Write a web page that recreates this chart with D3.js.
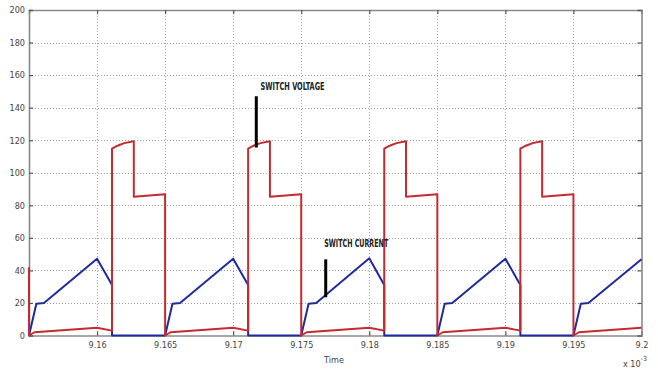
<!DOCTYPE html>
<html>
<head>
<meta charset="utf-8">
<script src="https://cdn.jsdelivr.net/npm/d3@7"></script>
<style>
  html, body { margin: 0; padding: 0; background: #fff; }
  svg { display: block; }
  .tick-label { font-family: "Liberation Sans Narrow", "DejaVu Sans Condensed", "Arial Narrow", sans-serif; font-size: 9px; fill: #444; }
  .annot { font-family: "Liberation Sans Narrow", "DejaVu Sans Condensed", "Arial Narrow", sans-serif; font-size: 10px; font-weight: bold; fill: #222; }
</style>
</head>
<body>
<div id="chart"></div>
<script>
// ---- Data (time in units of 1e-3 s) ----
const xTicks = [9.16, 9.165, 9.17, 9.175, 9.18, 9.185, 9.19, 9.195, 9.2];
const xTickLabels = ["9.16", "9.165", "9.17", "9.175", "9.18", "9.185", "9.19", "9.195", "9.2"];
const yTicks = [0, 20, 40, 60, 80, 100, 120, 140, 160, 180, 200];

// Switch current (blue)
const currentTime = [
  9.155, 9.15554, 9.1561, 9.160, 9.1611, 9.1611,
  9.165, 9.16554, 9.1661, 9.170, 9.1711, 9.1711,
  9.175, 9.17554, 9.1761, 9.180, 9.1811, 9.1811,
  9.185, 9.18554, 9.1861, 9.190, 9.1911, 9.1911,
  9.195, 9.19554, 9.1961, 9.200
];
const currentValue = [
  0, 19.5, 20, 47.2, 31, 0,
  0, 19.5, 20, 47.2, 31, 0,
  0, 19.5, 20, 47.4, 31, 0,
  0, 19.5, 20, 47.2, 31, 0,
  0, 19.5, 20, 46.8
];

// Switch voltage (red)
const voltageTime = [
  9.155, 9.155, 9.1554, 9.160, 9.1611, 9.1611, 9.1615, 9.1620, 9.1627, 9.1627, 9.1650,
  9.165, 9.1654, 9.170, 9.1711, 9.1711, 9.1715, 9.1720, 9.1727, 9.1727, 9.1750,
  9.175, 9.1754, 9.180, 9.1811, 9.1811, 9.1815, 9.1820, 9.1827, 9.1827, 9.1850,
  9.185, 9.1854, 9.190, 9.1911, 9.1911, 9.1915, 9.1920, 9.1927, 9.1927, 9.1950,
  9.195, 9.1954, 9.200
];
const voltageValue = [
  42, 0, 2, 4.8, 3, 114.8, 116.6, 118.2, 119.4, 85.3, 86.8,
  0, 2, 4.8, 3, 114.8, 116.6, 118.2, 119.4, 85.3, 86.8,
  0, 2, 4.8, 3, 114.8, 116.6, 118.2, 119.4, 85.3, 86.8,
  0, 2, 4.8, 3, 114.8, 116.6, 118.2, 119.4, 85.3, 86.8,
  0, 2, 4.8
];

// Annotations: label text, arrow time, label value, arrow top/bottom values
const annotationText = ["SWITCH VOLTAGE", "SWITCH CURRENT"];
const annotationTime = [9.1717, 9.1768];
const annotationLabelValue = [153, 56.6];
const annotationTop = [147, 46.8];
const annotationBottom = [115.5, 23.5];

// ---- Layout ----
const W = 658, H = 371;
const mLeft = 29, mRight = 641.5, mTop = 10, mBottom = 335.5;

const svg = d3.select("#chart").append("svg").attr("width", W).attr("height", H);

const x = d3.scaleLinear().domain([9.155, 9.2]).range([mLeft, mRight]);
const y = d3.scaleLinear().domain([0, 200]).range([mBottom, mTop]);

// Grid
const grid = svg.append("g").attr("stroke", "#a0a0a0").attr("stroke-width", 1).attr("stroke-dasharray", "1,2");
grid.selectAll("line.v").data(xTicks.filter(t => t < 9.2)).join("line")
  .attr("class", "v")
  .attr("x1", d => Math.round(x(d)) + 0.5).attr("x2", d => Math.round(x(d)) + 0.5)
  .attr("y1", mTop).attr("y2", mBottom);
grid.selectAll("line.h").data(yTicks.filter(t => t > 0 && t < 200)).join("line")
  .attr("class", "h")
  .attr("y1", d => Math.round(y(d)) + 0.5).attr("y2", d => Math.round(y(d)) + 0.5)
  .attr("x1", mLeft).attr("x2", mRight);

// Axes (MATLAB style, ticks inward, box)
const axisColor = "#8a8a8a";
const xAxisB = d3.axisBottom(x).tickValues(xTicks).tickSize(-4).tickFormat((d, i) => xTickLabels[i]).tickPadding(6);
const gxb = svg.append("g").attr("transform", `translate(0,${mBottom})`).call(xAxisB);
const xAxisT = d3.axisTop(x).tickValues(xTicks).tickSize(-4).tickFormat("");
const gxt = svg.append("g").attr("transform", `translate(0,${mTop})`).call(xAxisT);
const yAxisL = d3.axisLeft(y).tickValues(yTicks).tickSize(-4).tickPadding(4);
const gyl = svg.append("g").attr("transform", `translate(${mLeft},0)`).call(yAxisL);
const yAxisR = d3.axisRight(y).tickValues(yTicks).tickSize(-4).tickFormat("");
const gyr = svg.append("g").attr("transform", `translate(${mRight},0)`).call(yAxisR);

[gxb, gxt, gyl, gyr].forEach(g => {
  g.attr("font-family", null).attr("font-size", null);
  g.select(".domain").attr("stroke", axisColor).attr("stroke-width", 1.6);
  g.selectAll(".tick line").attr("stroke", "#555").attr("stroke-width", 1.2);
  g.selectAll(".tick text").attr("class", "tick-label").attr("fill", "#444");
});

// Series
const curData = currentTime.map((t, i) => [t, currentValue[i]]);
const volData = voltageTime.map((t, i) => [t, voltageValue[i]]);
const line = d3.line().x(d => x(d[0])).y(d => y(d[1]));

svg.append("path").datum(curData).attr("d", line)
  .attr("fill", "none").attr("stroke", "#1f2a9e").attr("stroke-width", 2).attr("stroke-linejoin", "round");
svg.append("path").datum(volData).attr("d", line)
  .attr("fill", "none").attr("stroke", "#c62a30").attr("stroke-width", 2).attr("stroke-linejoin", "round");

// Annotations
const labelDx = [4.3, -1.5];
annotationText.forEach((txt, i) => {
  const ax = x(annotationTime[i]);
  svg.append("line")
    .attr("x1", ax).attr("x2", ax)
    .attr("y1", y(annotationTop[i])).attr("y2", y(annotationBottom[i]))
    .attr("stroke", "#000").attr("stroke-width", 3);
  svg.append("text").attr("class", "annot")
    .attr("x", ax + labelDx[i]).attr("y", y(annotationLabelValue[i]) + 3.8)
    .attr("textLength", 64).attr("lengthAdjust", "spacingAndGlyphs")
    .text(txt);
});

// Labels
svg.append("text").attr("class", "tick-label").attr("x", 334).attr("y", 363)
  .attr("text-anchor", "middle").text("Time");
const ex = svg.append("text").attr("class", "tick-label").attr("x", 623).attr("y", 367);
ex.append("tspan").text("x 10");
ex.append("tspan").attr("dy", -6).attr("font-size", "7px").text("-3");
</script>
</body>
</html>
